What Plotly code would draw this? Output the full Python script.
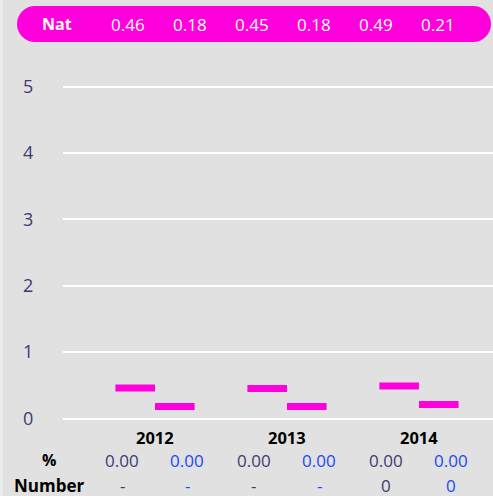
import plotly.graph_objects as go

# --- data ---
years = ["2012", "2013", "2014"]
series_a = [0.46, 0.45, 0.49]
series_b = [0.18, 0.18, 0.21]
pct_a = ["0.00", "0.00", "0.00"]
pct_b = ["0.00", "0.00", "0.00"]
num_a = ["-", "-", "0"]
num_b = ["-", "-", "0"]
nat_label = "Nat"

# --- styles ---
MAGENTA = "#ff00dc"
SLATE = "#3d3b72"
BLUE = "#2048ff"
BG = "#e1e1e1"
FONT = "Open Sans"

W, H = 493, 496
L, R, T, B = 63, 0, 50, 76
plot_w = W - L - R
plot_h = H - T - B

# marker thickness in data units (~7px)
k = plot_h / (5.55 + 0.0226)
thick = 7 / k


def xp(px):
    return (px - L) / plot_w


def yp(py):
    return (H - B - py) / plot_h


fig = go.Figure()
for vals in (series_a, series_b):
    fig.add_trace(go.Bar(
        x=years,
        y=[thick] * len(vals),
        base=[v - thick / 2 for v in vals],
        marker=dict(color=MAGENTA, line=dict(width=0)),
        hoverinfo="skip",
    ))

fig.update_layout(
    width=W, height=H,
    margin=dict(l=L, r=R, t=T, b=B, pad=0),
    paper_bgcolor=BG, plot_bgcolor=BG,
    barmode="group", bargap=0.4, bargroupgap=0,
    showlegend=False,
    font=dict(family=FONT, size=17, color=SLATE),
)
fig.update_xaxes(range=[-0.697, 2.561], showticklabels=False, showgrid=False,
                 zeroline=False, showline=False, fixedrange=True)
fig.update_yaxes(range=[-0.0226, 5.55], tickvals=[0, 1, 2, 3, 4, 5],
                 showgrid=True, gridcolor="white", gridwidth=2, zeroline=False,
                 ticks="outside", ticklen=25, tickcolor="rgba(0,0,0,0)",
                 tickfont=dict(size=18, color=SLATE), fixedrange=True)

shapes = [
    # lighter strip on the left edge
    dict(type="rect", xref="paper", yref="paper", x0=xp(0), x1=xp(3), y0=yp(H), y1=yp(0),
         fillcolor="#ebebeb", line=dict(width=0), layer="below"),
    # pill banner
    dict(type="rect", xref="paper", yref="paper", x0=xp(35), x1=xp(473), y0=yp(42), y1=yp(6),
         fillcolor=MAGENTA, line=dict(width=0)),
    dict(type="circle", xref="paper", yref="paper", x0=xp(17), x1=xp(53), y0=yp(42), y1=yp(6),
         fillcolor=MAGENTA, line=dict(width=0)),
    dict(type="circle", xref="paper", yref="paper", x0=xp(455), x1=xp(491), y0=yp(42), y1=yp(6),
         fillcolor=MAGENTA, line=dict(width=0)),
]
fig.update_layout(shapes=shapes)


def label(text, x, y, size, color, xref="paper"):
    return dict(text=text, x=x, y=y, xref=xref, yref="paper", xanchor="center",
                yanchor="middle", showarrow=False, font=dict(size=size, color=color))


ann = []
# banner texts
ann.append(label(f"<b>{nat_label}</b>", xp(57), yp(24), 16, "white"))
banner_vals = [v for pair in zip(series_a, series_b) for v in pair]
for i, v in enumerate(banner_vals):
    ann.append(label(f"{v:.2f}", xp(128 + 62 * i), yp(24), 17, "white"))

# table below the axis
ann.append(label("<b>%</b>", xp(49), yp(460), 16, "black"))
ann.append(label("<b>Number</b>", xp(49), yp(485), 17, "black"))
for i, yr in enumerate(years):
    ann.append(label(f"<b>{yr}</b>", i, yp(437), 16.5, "black", xref="x"))
    for off, txt, col in ((-0.25, pct_a[i], SLATE), (0.245, pct_b[i], BLUE)):
        ann.append(label(txt, i + off, yp(460), 17, col, xref="x"))
    for off, txt, col in ((-0.25, num_a[i], SLATE), (0.245, num_b[i], BLUE)):
        ann.append(label(txt, i + off, yp(485), 17, col, xref="x"))
fig.update_layout(annotations=ann)

fig.write_html("out.html", config={"displayModeBar": False},
               post_script="document.body.style.margin='0';document.body.style.overflow='hidden';")
